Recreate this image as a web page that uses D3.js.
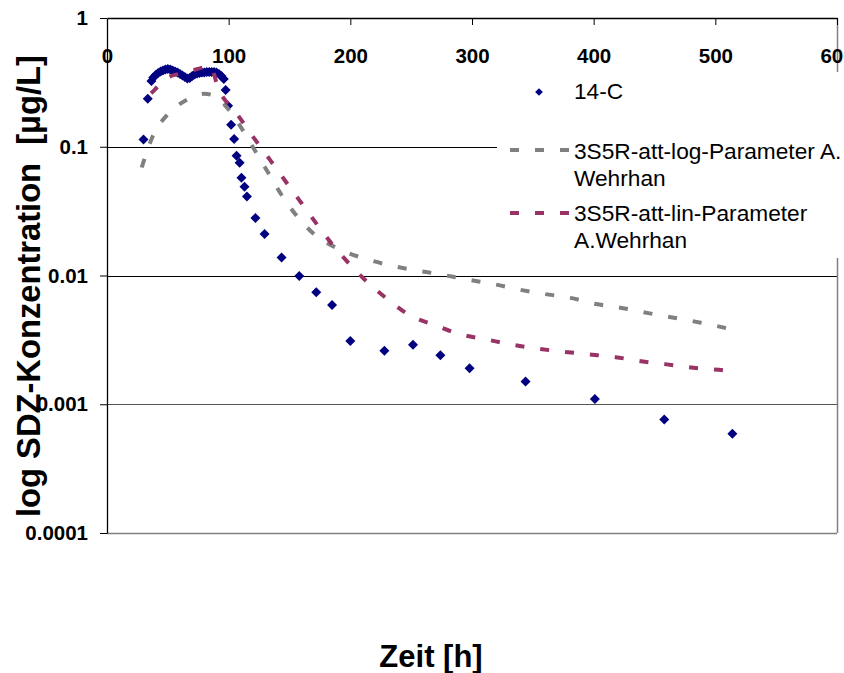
<!DOCTYPE html>
<html>
<head>
<meta charset="utf-8">
<script src="https://cdnjs.cloudflare.com/ajax/libs/d3/7.8.5/d3.min.js"></script>
<style>
  html, body { margin: 0; padding: 0; background: #fff; }
  svg { display: block; font-family: Arial, "Liberation Sans", sans-serif; }
</style>
</head>
<body>
<svg id="chart" width="844" height="673"></svg>
<script>
// 14-C measured breakthrough (time in h, concentration in µg/L)
const c14Time = [30, 33.5, 36.5, 38, 40, 42, 44, 46, 48, 50, 52, 54, 56, 58, 60, 62, 64, 66, 68, 70,
  72, 74, 76, 78, 80, 82, 84, 86, 88, 90, 92, 94, 96, 97.5, 99.5, 102, 104.5, 106.5, 109, 110.5,
  113, 115, 122, 129.5, 143.5, 158, 172, 185, 200, 228, 251.5, 274, 298, 344, 401, 458, 514];
const c14Conc = [0.114, 0.236, 0.324, 0.345, 0.361, 0.374, 0.384, 0.391, 0.398, 0.402, 0.398, 0.391,
  0.384, 0.377, 0.367, 0.358, 0.348, 0.339, 0.342, 0.354, 0.364, 0.371, 0.374, 0.377, 0.377, 0.381,
  0.381, 0.381, 0.381, 0.377, 0.367, 0.354, 0.336, 0.276, 0.208, 0.148, 0.115, 0.085, 0.075, 0.0575,
  0.049, 0.041, 0.028, 0.021, 0.0138, 0.0099, 0.0074, 0.0059, 0.0031, 0.0026, 0.0029, 0.0024,
  0.0019, 0.0015, 0.0011, 0.00076, 0.00059];

// Model: 3S5R-att-log parameters
const logModelTime = [28.5, 37.5, 50, 60, 70, 80, 91.5, 100, 108, 121, 132.5, 143.5, 156.5, 172,
  191, 211, 231, 253, 274, 296, 317, 338, 359, 381, 402, 423, 445, 466, 488, 509, 514];
const logModelConc = [0.069, 0.12, 0.179, 0.215, 0.242, 0.258, 0.238, 0.195, 0.152, 0.0955, 0.0629,
  0.0422, 0.0286, 0.0203, 0.016, 0.0136, 0.0121, 0.011, 0.0102, 0.0093, 0.0086, 0.0078, 0.0072,
  0.0067, 0.006, 0.0056, 0.0051, 0.0047, 0.0043, 0.0039, 0.0038];

// Model: 3S5R-att-lin parameters
const linModelTime = [36.2, 39.5, 45, 50, 60, 70, 80, 85, 91.5, 106.5, 121, 134, 147, 159, 172, 185,
  200, 215, 231, 249, 270, 290, 311, 333, 354, 375, 396, 418, 439, 460, 482, 503, 508];
const linModelConc = [0.26, 0.279, 0.32, 0.345, 0.37, 0.39, 0.415, 0.42, 0.284, 0.182, 0.116, 0.079,
  0.0535, 0.0374, 0.0254, 0.0175, 0.0121, 0.0087, 0.0065, 0.0049, 0.0041, 0.0035, 0.0032, 0.0029,
  0.0027, 0.00256, 0.00244, 0.00232, 0.00216, 0.00204, 0.00192, 0.00185, 0.00183];

const xTicks = [0, 100, 200, 300, 400, 500, 600];
const yTicks = [1, 0.1, 0.01, 0.001, 0.0001];
const yTickLabels = ["1", "0.1", "0.01", "0.001", "0.0001"];
const seriesNames = ["14-C", "3S5R-att-log-Parameter A.|Wehrhan", "3S5R-att-lin-Parameter|A.Wehrhan"];

const NAVY = "#000080", GREY = "#808080", PLUM = "#993366";

const svg = d3.select("#chart");
svg.append("rect").attr("width", 844).attr("height", 673).attr("fill", "#fff");

const x = d3.scaleLinear().domain([0, 600]).range([107, 837]);
const y = d3.scaleLog().domain([0.0001, 1]).range([533, 18]);

// horizontal gridlines and plot frame
const grid = svg.append("g");
grid.selectAll("line.grid").data([0.1, 0.01, 0.001]).join("line")
  .attr("x1", x(0)).attr("x2", x(600))
  .attr("y1", d => Math.round(y(d)) + 0.5).attr("y2", d => Math.round(y(d)) + 0.5)
  .attr("stroke", d => d === 0.001 ? "#555" : "#000").attr("stroke-width", 1);
grid.append("line").attr("x1", x(0)).attr("x2", x(600))
  .attr("y1", y(0.0001) + 0.5).attr("y2", y(0.0001) + 0.5)
  .attr("stroke", GREY).attr("stroke-width", 1.5);
grid.append("line").attr("x1", x(600) + 0.5).attr("x2", x(600) + 0.5)
  .attr("y1", y(1)).attr("y2", y(0.0001))
  .attr("stroke", GREY).attr("stroke-width", 1.5);

// 14-C measurements as diamonds
const c14 = c14Time.map((t, i) => ({ t, c: c14Conc[i] }));
const diamond = d3.symbol().type(d3.symbolSquare).size(50);
svg.append("g").selectAll("path").data(c14).join("path")
  .attr("d", diamond)
  .attr("transform", d => `translate(${x(d.t)},${y(d.c)}) rotate(45)`)
  .attr("fill", NAVY);

// model curves
const line = d3.line().x(d => x(d.t)).y(d => y(d.c)).curve(d3.curveMonotoneX);
const logModel = logModelTime.map((t, i) => ({ t, c: logModelConc[i] }));
const linModel = linModelTime.map((t, i) => ({ t, c: linModelConc[i] }));
svg.append("path").datum(logModel).attr("d", line)
  .attr("fill", "none").attr("stroke", GREY).attr("stroke-width", 4)
  .attr("stroke-dasharray", "9,16");
svg.append("path").datum(linModel).attr("d", line)
  .attr("fill", "none").attr("stroke", PLUM).attr("stroke-width", 4)
  .attr("stroke-dasharray", "9,16");

// axes: x axis along the top (at c = 1), labels under the line
const xAxis = d3.axisBottom(x).tickValues(xTicks).tickSize(7).tickSizeOuter(0)
  .tickPadding(23).tickFormat(d3.format("d"));
const gx = svg.append("g").attr("transform", `translate(0,${y(1)})`).call(xAxis);
gx.select(".domain").attr("stroke", "#000").attr("stroke-width", 1.3);
gx.selectAll(".tick line").attr("stroke", "#000").filter(d => d === 0).remove();
gx.selectAll(".tick text").attr("font-size", 20.5).attr("font-weight", "bold")
  .attr("font-family", "Arial, 'Liberation Sans', sans-serif").attr("fill", "#000");

const yAxis = d3.axisLeft(y).tickValues(yTicks).tickSize(7).tickSizeOuter(0)
  .tickPadding(12).tickFormat((d, i) => yTickLabels[i]);
const gy = svg.append("g").attr("transform", `translate(${x(0)},0)`).call(yAxis);
gy.select(".domain").attr("stroke", "#000").attr("stroke-width", 1.3);
gy.selectAll(".tick line").attr("stroke", "#000");
gy.selectAll(".tick text").attr("font-size", 20.5).attr("font-weight", "bold")
  .attr("font-family", "Arial, 'Liberation Sans', sans-serif").attr("fill", "#000");

// legend on a white panel over the upper right of the plot
const lg = svg.append("g");
lg.append("rect").attr("x", 497).attr("y", 72).attr("width", 347).attr("height", 186).attr("fill", "#fff");
lg.append("path").attr("d", d3.symbol().type(d3.symbolSquare).size(30))
  .attr("transform", "translate(539,92) rotate(45)").attr("fill", NAVY);
const legendLines = [{ y: 150, color: GREY }, { y: 213, color: PLUM }];
legendLines.forEach(l => {
  lg.append("line").attr("x1", 510).attr("x2", 569).attr("y1", l.y).attr("y2", l.y)
    .attr("stroke", l.color).attr("stroke-width", 4).attr("stroke-dasharray", "9,16");
});
const legendText = [
  { lines: seriesNames[0].split("|"), y: 99 },
  { lines: seriesNames[1].split("|"), y: 158.5 },
  { lines: seriesNames[2].split("|"), y: 220.5 }
];
legendText.forEach(e => {
  const t = lg.append("text").attr("x", 574).attr("y", e.y)
    .attr("font-size", 22.7).attr("fill", "#000");
  e.lines.forEach((s, i) => t.append("tspan").attr("x", 574).attr("dy", i === 0 ? 0 : 27).text(s));
});

// axis titles
svg.append("text").attr("x", 431).attr("y", 667).attr("text-anchor", "middle")
  .attr("font-size", 31).attr("font-weight", "bold").text("Zeit [h]");
svg.append("text").attr("transform", "translate(40,517) rotate(-90)")
  .attr("text-anchor", "start").attr("font-size", 32.7).attr("font-weight", "bold")
  .style("white-space", "pre").text("log SDZ-Konzentration  [µg/L]");
</script>
</body>
</html>
